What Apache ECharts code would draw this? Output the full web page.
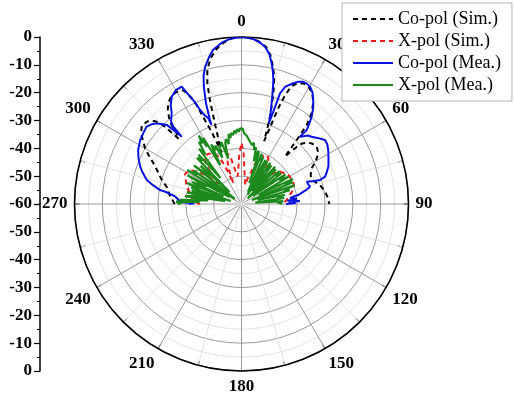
<!DOCTYPE html>
<html>
<head>
<meta charset="utf-8">
<script src="https://cdn.jsdelivr.net/npm/echarts@6/dist/echarts.min.js"></script>
<style>html,body{margin:0;padding:0;background:#fff}#c{width:514px;height:408px}</style>
</head>
<body>
<div id="c"></div>
<script>
// [angle (deg, clockwise from top), level (dB)]
const coPolSim = [[-90,-36],[-88,-35.5],[-86,-35],[-84,-34.2],[-80,-33.3],[-77,-32.4],[-74,-30.5],[-72,-29.5],[-68,-27.2],[-65,-25],[-63,-23],[-60,-20],[-58,-18.5],[-55,-16],[-52,-14.5],[-49,-14.9],[-47,-16],[-45.5,-18],[-44.7,-21],[-44.2,-25],[-43.9,-27.5],[-43.2,-26.5],[-42.5,-25.5],[-41.5,-22],[-40,-19.5],[-38,-17],[-36,-15.3],[-34,-14.2],[-31,-13.5],[-28.5,-13.6],[-27,-14.2],[-25.8,-16.5],[-25,-18.5],[-24.3,-21.5],[-24,-24.5],[-23.5,-27.5],[-22.5,-32],[-21,-40],[-19.8,-36],[-19,-33],[-18.3,-29.5],[-17.6,-25.8],[-16.9,-20.9],[-15.8,-14.9],[-14.3,-10.3],[-12,-6.5],[-9,-3.5],[-6,-1.5],[-3,-0.3],[0,0],[3,-0.3],[6,-1.2],[9,-3],[11,-5.5],[13,-9.5],[14.5,-13],[15.8,-17.5],[17,-22.5],[18,-27],[19,-32],[19.8,-36],[20.5,-30],[21,-23],[21.8,-18],[23,-14],[25,-12],[27.5,-11.3],[30,-11.6],[32.5,-12.8],[35,-15],[37.5,-18.5],[39.5,-23],[40.5,-28],[41.5,-33],[42.5,-37],[43.3,-34],[44,-31.5],[45,-29.3],[47,-27.6],[49.2,-26.7],[52.7,-26],[56.6,-26.9],[60,-29.2],[63,-31.7],[67,-33],[70,-33.4],[73,-32.5],[76.4,-31],[81.6,-29.7],[86.2,-28.8],[90,-28.5]];

const xPolSim = [[-90,-45],[-87,-43],[-84,-42],[-81.4,-42.5],[-78,-41],[-75,-40.2],[-72,-39.2],[-68,-38.5],[-65,-37.8],[-62,-37],[-59,-37.5],[-56,-38.5],[-53,-41],[-50,-45],[-48,-49],[-46,-47],[-43,-42.5],[-40,-39.5],[-37,-38.6],[-34,-38.3],[-31,-38.8],[-28,-39.4],[-26,-41],[-24,-44],[-22.5,-48],[-21.5,-52],[-20,-47],[-18,-43.5],[-15,-41.2],[-13,-43],[-11,-47],[-8,-50],[-5,-47],[-2.5,-42],[0,-38],[2.5,-42],[5,-48],[8,-51],[11,-53],[14,-50],[16.3,-49],[17.6,-46],[19.5,-44],[21,-43],[23,-42],[25.6,-40.5],[28,-40.3],[30.5,-41],[33,-42.5],[35,-45],[37.5,-49],[40,-52],[43,-48],[46,-44],[50,-42],[54.8,-40.9],[58,-40.2],[62,-40],[66.7,-39.7],[70,-40],[74.9,-40.7],[78,-42],[82,-43],[86,-44],[90,-46]];

const coPolMea = [[-90,-41],[-89,-43],[-88,-36.5],[-87.3,-40],[-86.5,-37.5],[-85,-37.5],[-83.5,-36],[-82.5,-35.3],[-81,-32.5],[-80.3,-30.3],[-78,-27.5],[-75.8,-24.9],[-72.5,-22.8],[-69.8,-21.2],[-66,-19.5],[-62.4,-18.1],[-58,-17],[-54.2,-16.5],[-50.8,-16],[-48.5,-16.8],[-46.4,-18],[-44.5,-19.8],[-43.4,-20.9],[-42.5,-24],[-41.6,-27.7],[-41.4,-23],[-40.5,-21],[-37.5,-18.8],[-35.5,-16.2],[-33,-14],[-30,-12.8],[-27,-12.7],[-25.6,-17.2],[-24.5,-20],[-23.8,-23],[-22.5,-25.5],[-21.2,-27],[-20.8,-29.6],[-20.5,-27.5],[-19.4,-21.5],[-17.8,-15.8],[-16.5,-12],[-14.9,-9.1],[-12.5,-6],[-10.5,-3.7],[-7,-1.6],[-4,-0.5],[0,0],[4,-0.5],[6.5,-1.6],[8.5,-2.9],[10.5,-5.2],[12.1,-8.3],[13.3,-11],[14.4,-14],[15.2,-17],[16,-19.9],[17,-23.5],[18.2,-27],[18.7,-29.5],[19,-25],[19.2,-17.9],[20.5,-15],[23.2,-12.8],[25,-11.5],[26.8,-10.8],[28.5,-10.8],[30.3,-11.2],[32.5,-12.5],[34.6,-14.6],[36.8,-17],[38.8,-19.8],[40.3,-22.5],[41.4,-24.6],[41,-28],[42.5,-27],[44,-25.8],[46.2,-25.1],[49,-23.8],[52.5,-22.2],[55,-22.4],[58.1,-23.3],[62,-24.6],[66.7,-26],[69.5,-27.3],[71.9,-28.4],[73,-30.5],[72.5,-32.5],[71.1,-35.2],[73.5,-35],[75.8,-34.6],[78,-36.5],[81,-39.4],[83,-42.4],[84.5,-40],[86,-43.5],[87,-39],[88,-43],[89,-40.5],[90,-44]];

const xPolMea = [[-90,-37],[-89,-38.5],[-88,-36.5],[-87,-45],[-86,-38],[-84,-48],[-82,-39.5],[-81,-42],[-80,-54],[-78,-40],[-76,-47],[-75,-41.5],[-74,-56],[-72,-41],[-70,-44],[-69,-39],[-67,-53],[-66,-40.5],[-64,-46],[-62,-38],[-60,-55],[-58,-37],[-57,-41],[-55,-39],[-53,-57],[-51,-38],[-49,-45],[-47,-40],[-45,-54],[-44,-37],[-42,-39],[-41,-36.5],[-39,-48],[-37.5,-35],[-36,-38],[-34.5,-33],[-33,-34],[-32,-31],[-31,-36],[-30,-32.5],[-28.5,-44],[-27,-36],[-25.5,-38.5],[-24,-37],[-22.5,-42],[-21,-37.5],[-19.5,-38],[-18,-36.5],[-16.5,-43],[-15,-37.5],[-13.5,-36],[-12,-38],[-10.5,-34.5],[-9.5,-36],[-8.5,-34.2],[-7,-35],[-5.5,-33.5],[-4.5,-34.5],[-3,-33],[-2,-34],[-1,-32.8],[0,-33.5],[1,-33],[2,-34.5],[3,-34],[4.5,-35.5],[5.5,-35],[7,-37],[8.5,-36.5],[10,-38.5],[11.5,-37.5],[13,-40],[14.5,-39],[16,-44],[17.5,-40],[19,-41],[20.5,-52],[22,-40.5],[23.5,-43],[25,-41.5],[27,-55],[28.5,-42],[30,-46],[31.5,-42],[33,-56],[35,-42],[36.5,-45],[38,-42.5],[40,-54],[42,-42],[43.5,-46],[45,-42.5],[47,-57],[49,-42],[51,-44],[52.5,-42],[54.5,-55],[56,-41],[58,-44],[60,-40.5],[62,-53],[64,-39.5],[65.5,-43],[67,-40],[69,-56],[70.5,-39.7],[72,-44],[74,-42],[76,-54],[78,-44],[80,-47],[82,-44.5],[84,-55],[86,-45],[88,-47],[89,-45.5],[90,-46]];

const seriesNames = ['Co-pol (Sim.)','X-pol (Sim.)','Co-pol (Mea.)','X-pol (Mea.)'];
const angleTicks = [0,30,60,90,120,150,180,210,240,270,300,330];

const FONT = 'Liberation Serif';
function toPolar(arr){ return arr.map(p => [p[1], p[0] < 0 ? p[0] + 360 : p[0]]); }

const chart = echarts.init(document.getElementById('c'), null, {renderer:'canvas'});
const yAxisCommon = {
  type:'value', min:-60, max:0, interval:10,
  axisLine:{show:true, lineStyle:{color:'#000', width:1.5}},
  axisTick:{show:true, length:6, lineStyle:{color:'#000', width:1.2}},
  minorTick:{show:true, splitNumber:2, length:3, lineStyle:{color:'#000'}},
  splitLine:{show:false},
  axisLabel:{color:'#000', fontFamily:FONT, fontWeight:'bold', fontSize:17, margin:8}
};
chart.setOption({
  animation:false,
  backgroundColor:'#fff',
  polar:{center:[241.5,204], radius:167},
  angleAxis:{
    type:'value', min:0, max:360, interval:30, startAngle:90, clockwise:true,
    axisLine:{lineStyle:{color:'#000', width:1.6}},
    axisTick:{show:true, inside:true, length:5, lineStyle:{color:'#000'}},
    minorTick:{show:true, splitNumber:2, length:5, lineStyle:{color:'#000'}},
    axisLabel:{margin:7, color:'#000', fontFamily:FONT, fontWeight:'bold', fontSize:17,
      formatter: v => angleTicks.indexOf(v) >= 0 ? String(v) : ''},
    splitLine:{show:true, lineStyle:{color:'#9a9a9a', width:1}},
    minorSplitLine:{show:true, lineStyle:{color:'#e4e4e4', width:1}}
  },
  radiusAxis:{
    type:'value', min:-60, max:0, interval:10,
    axisLine:{show:false}, axisTick:{show:false}, axisLabel:{show:false},
    minorTick:{show:false, splitNumber:2},
    splitLine:{show:true, lineStyle:{color:'#9a9a9a', width:1}},
    minorSplitLine:{show:true, lineStyle:{color:'#e4e4e4', width:1}}
  },
  grid:[{left:40, top:37, width:1, height:167, show:false},{left:40, top:204, width:1, height:167, show:false}],
  xAxis:[{gridIndex:0, type:'value', show:false},{gridIndex:1, type:'value', show:false}],
  yAxis:[
    Object.assign({gridIndex:0}, yAxisCommon),
    Object.assign({gridIndex:1, inverse:true}, yAxisCommon, {axisLabel:Object.assign({}, yAxisCommon.axisLabel, {formatter: v => v === -60 ? '' : String(v)})})
  ],
  legend:{
    orient:'vertical', left:342, top:3, itemWidth:40, itemHeight:12, itemGap:2,
    padding:[6,11,6,10], backgroundColor:'#fff', borderColor:'#b5b5b5', borderWidth:1,
    itemStyle:{opacity:0},
    textStyle:{fontFamily:FONT, fontSize:18, color:'#000', lineHeight:20},
    data: seriesNames, z:10
  },
  series:[
    {name:seriesNames[0], type:'line', coordinateSystem:'polar', symbol:'none', data:toPolar(coPolSim),
      lineStyle:{color:'#000', width:2, type:[5,4]}, itemStyle:{color:'#000'}},
    {name:seriesNames[1], type:'line', coordinateSystem:'polar', symbol:'none', data:toPolar(xPolSim),
      lineStyle:{color:'#f01c1c', width:2, type:[5,4]}, itemStyle:{color:'#f01c1c'}},
    {name:seriesNames[2], type:'line', coordinateSystem:'polar', symbol:'none', data:toPolar(coPolMea),
      lineStyle:{color:'#0a12e0', width:2}, itemStyle:{color:'#0a12e0'}},
    {name:seriesNames[3], type:'line', coordinateSystem:'polar', symbol:'none', data:toPolar(xPolMea),
      lineStyle:{color:'#1c8a1c', width:2.2}, itemStyle:{color:'#1c8a1c'}}
  ]
});
</script>
</body>
</html>
